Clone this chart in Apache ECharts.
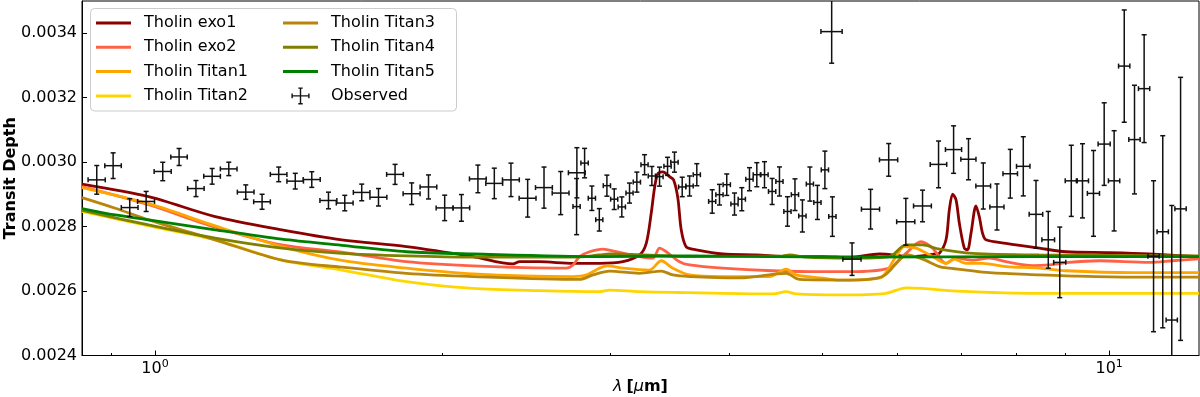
<!DOCTYPE html>
<html>
<head>
<meta charset="utf-8">
<script src="https://cdn.jsdelivr.net/npm/echarts@6/dist/echarts.min.js"></script>
<style>
  html, body { margin: 0; padding: 0; background: #fff; }
  #chart { width: 1200px; height: 397px; }
</style>
</head>
<body>
<div id="chart"></div>
<script>
// axis ticks
const xMajorTicks = [1, 10];
const xMinorTicks = [0.9, 2, 3, 4, 5, 6, 7, 8, 9];
const yTicks = [0.0024, 0.0026, 0.0028, 0.0030, 0.0032, 0.0034];

// observed spectrum (wavelength um, depth, errors)
const obsWave = [0.869, 0.904, 0.941, 0.979, 1.019, 1.060, 1.104, 1.148, 1.195, 1.245,
  1.295, 1.348, 1.403, 1.460, 1.520, 1.581, 1.647, 1.715, 1.785, 1.858,
  1.935, 2.012, 2.095, 2.180, 2.268, 2.361, 2.458, 2.557, 2.662, 2.768,
  2.766, 2.820, 2.870, 2.922, 2.976, 3.029, 3.085, 3.143, 3.199, 3.259,
  3.317, 3.379, 3.445, 3.503, 3.569, 3.633, 3.697, 3.837, 3.905, 3.974,
  4.049, 4.121, 4.198, 4.273, 4.353, 4.434, 4.513, 4.601, 4.685, 4.770,
  4.857, 4.946, 5.036, 5.128, 5.119, 5.377, 5.623, 5.874, 6.122, 6.374,
  6.625, 6.870, 7.121, 7.380, 7.628, 7.877, 8.128, 8.381, 8.633, 8.876,
  9.126, 9.376, 9.628, 9.880, 10.12, 10.37, 10.63, 10.88, 11.13, 11.38,
  11.63, 11.88];
const obsDepth = [0.002945, 0.002989, 0.002859, 0.002878, 0.002971, 0.003016, 0.002918, 0.002956, 0.002979, 0.002907,
  0.002877, 0.002962, 0.002941, 0.002946, 0.002881, 0.002873, 0.002906, 0.002891, 0.002962, 0.002902,
  0.002923, 0.002858, 0.002858, 0.002948, 0.002934, 0.002945, 0.002888, 0.002921, 0.002904, 0.002967,
  0.002862, 0.002997, 0.002888, 0.002821, 0.002927, 0.002885, 0.002861, 0.002904, 0.002938, 0.002992,
  0.002957, 0.002955, 0.002987, 0.003000, 0.002923, 0.002926, 0.002961, 0.002878, 0.002899, 0.002930,
  0.002870, 0.002885, 0.002947, 0.002961, 0.002961, 0.002909, 0.002940, 0.002847, 0.002899, 0.002833,
  0.002932, 0.002875, 0.002976, 0.002831, 0.003405, 0.002699, 0.002854, 0.003007, 0.002815, 0.002864,
  0.002993, 0.003039, 0.003009, 0.002926, 0.002861, 0.002964, 0.002987, 0.002838, 0.002759, 0.002689,
  0.002942, 0.002942, 0.002903, 0.003056, 0.002942, 0.003298, 0.003070, 0.003228, 0.002708, 0.002784,
  0.002510, 0.002855];
const obsDepthErr = [4.45e-5, 3.98e-5, 2.74e-5, 3.11e-5, 2.86e-5, 2.64e-5, 2.49e-5, 2.43e-5, 2.08e-5, 2.24e-5,
  2.33e-5, 2.27e-5, 2.43e-5, 2.43e-5, 2.58e-5, 2.40e-5, 2.58e-5, 2.71e-5, 3.11e-5, 3.36e-5,
  3.73e-5, 3.95e-5, 4.14e-5, 4.29e-5, 4.73e-5, 5.19e-5, 5.85e-5, 6.38e-5, 6.69e-5, 7.78e-5,
  8.71e-5, 4.57e-5, 3.79e-5, 3.48e-5, 3.27e-5, 3.20e-5, 3.11e-5, 3.11e-5, 3.11e-5, 3.11e-5,
  2.95e-5, 2.95e-5, 2.80e-5, 3.11e-5, 3.02e-5, 3.11e-5, 3.42e-5, 3.64e-5, 3.20e-5, 3.33e-5,
  3.42e-5, 3.58e-5, 3.58e-5, 3.73e-5, 4.04e-5, 4.04e-5, 4.51e-5, 4.57e-5, 4.91e-5, 4.98e-5,
  5.29e-5, 5.29e-5, 5.82e-5, 6.13e-5, 9.80e-5, 5.04e-5, 6.16e-5, 5.07e-5, 7.25e-5, 4.91e-5,
  7.25e-5, 7.37e-5, 6.38e-5, 7.15e-5, 7.15e-5, 7.56e-5, 9.18e-5, 1.051e-4, 8.80e-5, 1.095e-4,
  1.104e-4, 1.151e-4, 1.331e-4, 1.281e-4, 1.555e-4, 1.742e-4, 1.686e-4, 1.673e-4, 2.342e-4, 2.980e-4,
  3.555e-4, 4.081e-4];
const obsWaveErr = [0.018, 0.018, 0.019, 0.020, 0.021, 0.021, 0.022, 0.023, 0.024, 0.025,
  0.026, 0.027, 0.028, 0.030, 0.031, 0.032, 0.033, 0.035, 0.036, 0.038,
  0.039, 0.041, 0.042, 0.044, 0.046, 0.048, 0.050, 0.052, 0.054, 0.056,
  0.024, 0.025, 0.025, 0.025, 0.026, 0.026, 0.027, 0.027, 0.028, 0.028,
  0.029, 0.029, 0.030, 0.031, 0.031, 0.032, 0.032, 0.033, 0.034, 0.035,
  0.035, 0.036, 0.037, 0.037, 0.038, 0.039, 0.039, 0.040, 0.041, 0.042,
  0.042, 0.043, 0.044, 0.045, 0.131, 0.118, 0.123, 0.129, 0.134, 0.137,
  0.132, 0.134, 0.130, 0.131, 0.130, 0.138, 0.132, 0.137, 0.132, 0.130,
  0.133, 0.137, 0.141, 0.144, 0.138, 0.141, 0.145, 0.148, 0.151, 0.155,
  0.158, 0.162];

// model spectra
const exo1Wave = [0.8386, 0.9849, 1.1565, 1.3582, 1.5695, 1.8347, 2.1542, 2.3723, 2.4109, 2.5301,
  2.7416, 2.9240, 3.0929, 3.2198, 3.2724, 3.3121, 3.3384, 3.3651, 3.4059, 3.4614,
  3.4950, 3.5314, 3.5605, 3.6037, 3.6917, 3.9362, 4.2663, 4.6229, 5.0096, 5.3425,
  5.743, 6.2176, 6.5840, 6.6375, 6.7456, 6.7994, 6.8539, 6.9104, 6.9655, 7.0500,
  7.1041, 7.1644, 7.2513, 7.3093, 7.3675, 7.4282, 7.7954, 8.4474, 9.0103, 10.0,
  11.012, 12.42];
const exo1Depth = [0.002932, 0.002893, 0.002831, 0.002790, 0.002759, 0.002738, 0.002707, 0.002684, 0.002691, 0.002691,
  0.002686, 0.002686, 0.002691, 0.002712, 0.002748, 0.002842, 0.002920, 0.002964, 0.002970, 0.002955,
  0.002945, 0.002889, 0.002790, 0.002737, 0.002728, 0.002715, 0.002712, 0.002707, 0.002707, 0.002705,
  0.002715, 0.002707, 0.002715, 0.002717, 0.002759, 0.002852, 0.002901, 0.002883, 0.002811, 0.002733,
  0.002728, 0.002779, 0.002864, 0.002831, 0.002779, 0.002759, 0.002748, 0.002733, 0.002722, 0.002719,
  0.002715, 0.002707];

const exo2Wave = [0.8386, 0.9849, 1.1565, 1.3582, 1.5695, 1.8347, 2.1542, 2.6984, 2.7416, 2.7862,
  2.8544, 2.9474, 3.0440, 3.2198, 3.3248, 3.3789, 3.4339, 3.5459, 3.6325, 3.9362,
  4.4406, 5.0096, 5.3425, 5.8820, 6.1237, 6.3499, 6.5302, 6.7456, 6.9104, 7.1921,
  7.4875, 7.7954, 8.3120, 8.6538, 9.0103, 9.7604, 11.012, 11.649, 12.42];
const exo2Depth = [0.002924, 0.002868, 0.002798, 0.002743, 0.002721, 0.002691, 0.002678, 0.002671, 0.002681, 0.002707,
  0.002722, 0.002730, 0.002722, 0.002707, 0.002702, 0.002733, 0.002722, 0.002691, 0.002681, 0.002671,
  0.002663, 0.002660, 0.002660, 0.002671, 0.002717, 0.002753, 0.002733, 0.002686, 0.002702, 0.002696,
  0.002702, 0.002691, 0.002679, 0.002681, 0.002688, 0.002694, 0.002689, 0.002694, 0.002700];

const titan1Wave = [0.8386, 0.9849, 1.1565, 1.3582, 1.5695, 1.8347, 2.1542, 2.7416, 2.8317, 2.9240,
  2.9831, 3.0929, 3.2984, 3.3928, 3.4890, 3.6325, 3.9362, 4.4053, 4.5863, 4.6982,
  5.0096, 5.2154, 5.743, 5.9779, 6.0987, 6.2734, 6.5302, 6.7456, 6.8820, 7.0790,
  7.3675, 7.7954, 8.4474, 9.0103, 10.578, 12.42];
const titan1Depth = [0.002921, 0.002871, 0.002802, 0.002738, 0.002695, 0.002671, 0.002653, 0.002645, 0.002650, 0.002671,
  0.002678, 0.002671, 0.002665, 0.002694, 0.002671, 0.002650, 0.002645, 0.002645, 0.002668, 0.002650,
  0.002640, 0.002634, 0.002640, 0.002707, 0.002738, 0.002733, 0.002707, 0.002686, 0.002699, 0.002686,
  0.002686, 0.002676, 0.002671, 0.002663, 0.002657, 0.002657];

const titan2Wave = [0.8386, 0.9849, 1.1565, 1.3582, 1.5695, 1.8347, 2.1542, 2.5301, 2.9240, 2.9953,
  3.2198, 3.6325, 4.4406, 4.5863, 4.6982, 5.2154, 5.8352, 6.1237, 6.3744, 6.9104,
  8.4474, 12.42];
const titan2Depth = [0.002847, 0.002802, 0.002759, 0.002696, 0.002665, 0.002629, 0.002608, 0.002601, 0.002598, 0.002603,
  0.002598, 0.002595, 0.002591, 0.002598, 0.002591, 0.002588, 0.002593, 0.002610, 0.002608, 0.002600,
  0.002593, 0.002593];

const titan3Wave = [0.8386, 0.9088, 0.9849, 1.1565, 1.3582, 1.5695, 1.8347, 2.1542, 2.7862, 2.8772,
  2.9953, 3.2198, 3.3928, 3.4890, 3.6325, 4.0979, 4.5863, 4.7358, 5.3425, 5.7875,
  6.0503, 6.1475, 6.3744, 6.6375, 6.7994, 7.0790, 7.4875, 8.4474, 9.0103, 10.578,
  12.42];
const titan3Depth = [0.002890, 0.002857, 0.002821, 0.002759, 0.002696, 0.002674, 0.002655, 0.002645, 0.002636, 0.002650,
  0.002662, 0.002655, 0.002662, 0.002650, 0.002645, 0.002641, 0.002655, 0.002636, 0.002634, 0.002645,
  0.002702, 0.002712, 0.002699, 0.002676, 0.002671, 0.002665, 0.002657, 0.002650, 0.002647, 0.002643,
  0.002643];

const titan4Wave = [0.8386, 0.9849, 1.1565, 1.3582, 1.5695, 1.8347, 2.1542, 2.7416, 2.9240, 2.9953,
  3.6325, 4.5489, 4.6229, 4.8129, 5.3425, 5.8820, 6.1237, 6.3744, 6.6375, 7.1921,
  8.4474, 12.42];
const titan4Depth = [0.002850, 0.002805, 0.002764, 0.002733, 0.002717, 0.002709, 0.002705, 0.002705, 0.002712, 0.002715,
  0.002707, 0.002709, 0.002712, 0.002705, 0.002702, 0.002707, 0.002743, 0.002743, 0.002730, 0.002717,
  0.002712, 0.002709];

const titan5Wave = [0.8386, 0.9088, 0.9849, 1.1565, 1.3582, 1.5695, 1.8347, 2.1542, 2.9240, 3.6325,
  5.3425, 8.4474, 12.42];
const titan5Depth = [0.002856, 0.002836, 0.002821, 0.002790, 0.002761, 0.002742, 0.002722, 0.002715, 0.002707, 0.002709,
  0.002705, 0.002707, 0.002707];

const models = [
  { name: 'Tholin exo1', color: '#8b0000', wave: exo1Wave, depth: exo1Depth },
  { name: 'Tholin exo2', color: '#ff6347', wave: exo2Wave, depth: exo2Depth },
  { name: 'Tholin Titan1', color: '#ffa500', wave: titan1Wave, depth: titan1Depth },
  { name: 'Tholin Titan2', color: '#ffd700', wave: titan2Wave, depth: titan2Depth },
  { name: 'Tholin Titan3', color: '#b8860b', wave: titan3Wave, depth: titan3Depth },
  { name: 'Tholin Titan4', color: '#808000', wave: titan4Wave, depth: titan4Depth },
  { name: 'Tholin Titan5', color: '#008000', wave: titan5Wave, depth: titan5Depth },
];

const FONT = 'DejaVu Sans';
const ERR_COLOR = '#111111';
// legend glyphs, drawn in a 35x17 box
const LINE_ICON = 'path://M0,0 M35,17 M0,7.0 L35,7.0 L35,10.0 L0,10.0 Z';
const ERR_ICON = 'path://M0,0 M35,17 M9,7.8 L26,7.8 L26,9.2 L9,9.2 Z M16.8,0 L18.2,0 L18.2,17 L16.8,17 Z '
  + 'M8.4,6.2 L9.8,6.2 L9.8,10.8 L8.4,10.8 Z M25.2,6.2 L26.6,6.2 L26.6,10.8 L25.2,10.8 Z '
  + 'M15.3,0 L19.7,0 L19.7,1.4 L15.3,1.4 Z M15.3,15.6 L19.7,15.6 L19.7,17 L15.3,17 Z';

const chart = echarts.init(document.getElementById('chart'), null, { renderer: 'canvas' });

const lineSeries = models.map((m) => ({
  name: m.name,
  type: 'line',
  data: m.wave.map((w, i) => [w, m.depth[i]]),
  symbol: 'none',
  showSymbol: false,
  smooth: 0.3,
  lineStyle: { color: m.color, width: 2.8 },
  itemStyle: { color: m.color },
  silent: true,
  z: 2,
}));

function renderErrorBar(params, api) {
  const x = api.value(0);
  const y = api.value(1);
  const xe = api.value(2);
  const ye = api.value(3);
  const c = api.coord([x, y]);
  const left = api.coord([x - xe, y])[0];
  const right = api.coord([x + xe, y])[0];
  const top = api.coord([x, y + ye])[1];
  const bottom = api.coord([x, y - ye])[1];
  const cs = params.coordSys;
  const yMinPx = cs.y;
  const yMaxPx = cs.y + cs.height;
  const cap = 2.5;
  const style = { stroke: ERR_COLOR, lineWidth: 1.5 };
  const children = [
    { type: 'line', shape: { x1: left, y1: c[1], x2: right, y2: c[1] }, style },
    { type: 'line', shape: { x1: c[0], y1: Math.max(top, yMinPx), x2: c[0], y2: Math.min(bottom, yMaxPx) }, style },
    { type: 'line', shape: { x1: left, y1: c[1] - cap, x2: left, y2: c[1] + cap }, style },
    { type: 'line', shape: { x1: right, y1: c[1] - cap, x2: right, y2: c[1] + cap }, style },
  ];
  if (top >= yMinPx) {
    children.push({ type: 'line', shape: { x1: c[0] - cap, y1: top, x2: c[0] + cap, y2: top }, style });
  }
  if (bottom <= yMaxPx) {
    children.push({ type: 'line', shape: { x1: c[0] - cap, y1: bottom, x2: c[0] + cap, y2: bottom }, style });
  }
  return { type: 'group', children };
}

const legendBase = {
  orient: 'vertical',
  top: 14.5,
  padding: 0,
  itemWidth: 35,
  itemHeight: 17,
  itemGap: 7.3,
  selectedMode: false,
  textStyle: { fontFamily: FONT, fontSize: 16, color: '#000', padding: [0, 0, 0, 8] },
};

const lineLegendItem = (name) => ({ name, icon: LINE_ICON });

chart.setOption({
  animation: false,
  backgroundColor: '#fff',
  textStyle: { fontFamily: FONT },
  grid: {
    left: 82, right: 1, top: 1, bottom: 41.5,
    outerBoundsMode: 'none',
    containLabel: false,
    show: true, borderColor: '#000', borderWidth: 1, backgroundColor: 'transparent',
  },
  legend: [
    Object.assign({}, legendBase, {
      left: 96,
      data: ['Tholin exo1', 'Tholin exo2', 'Tholin Titan1', 'Tholin Titan2'].map(lineLegendItem),
    }),
    Object.assign({}, legendBase, {
      left: 283,
      data: ['Tholin Titan3', 'Tholin Titan4', 'Tholin Titan5'].map(lineLegendItem)
        .concat([{ name: 'Observed', icon: ERR_ICON }]),
    }),
  ],
  graphic: [{
    type: 'rect',
    z: 3,
    shape: { x: 90.5, y: 8.5, width: 366, height: 102.5, r: 4 },
    style: { fill: 'rgba(255,255,255,0.8)', stroke: '#cccccc', lineWidth: 1 },
  }],
  xAxis: [
    {
      type: 'log',
      logBase: 10,
      min: 0.8386,
      max: 12.42,
      position: 'bottom',
      axisLine: { show: true, lineStyle: { color: '#000', width: 1 } },
      axisTick: { show: true, inside: true, length: 5, customValues: xMajorTicks, lineStyle: { color: '#000', width: 1 } },
      axisLabel: {
        customValues: xMajorTicks,
        margin: 3,
        color: '#000',
        formatter: (v) => `{b|10}{s|${Math.round(Math.log10(v))}}`,
        rich: {
          b: { fontFamily: FONT, fontSize: 16, color: '#000', lineHeight: 20 },
          s: { fontFamily: FONT, fontSize: 11, color: '#000', lineHeight: 10, verticalAlign: 'top' },
        },
      },
      splitLine: { show: false },
      minorTick: { show: false },
      name: '{i|λ} {b|[}{i|μ}{b|m]}',
      nameLocation: 'middle',
      nameGap: 23,
      nameMoveOverlap: false,
      nameTextStyle: {
        rich: {
          i: { fontFamily: FONT, fontSize: 16, fontStyle: 'italic', color: '#000' },
          b: { fontFamily: FONT, fontSize: 16, fontWeight: 'bold', color: '#000' },
        },
      },
    },
    {
      type: 'log',
      logBase: 10,
      min: 0.8386,
      max: 12.42,
      position: 'bottom',
      axisLine: { show: false },
      axisTick: { show: true, inside: true, length: 2.5, customValues: xMinorTicks, lineStyle: { color: '#000', width: 1 } },
      axisLabel: { show: false },
      splitLine: { show: false },
    },
  ],
  yAxis: {
    type: 'value',
    min: 0.0024,
    max: 0.0035,
    interval: 0.0002,
    axisLine: { show: true, lineStyle: { color: '#000', width: 1 } },
    axisTick: { show: true, inside: true, length: 5, customValues: yTicks, lineStyle: { color: '#000', width: 1 } },
    axisLabel: {
      customValues: yTicks,
      margin: 5,
      color: '#000',
      fontFamily: FONT,
      fontSize: 16,
      formatter: (v) => v.toFixed(4),
    },
    splitLine: { show: false },
    name: 'Transit Depth',
    nameLocation: 'middle',
    nameGap: 63,
    nameMoveOverlap: false,
    nameTextStyle: { fontFamily: FONT, fontSize: 16, fontWeight: 'bold', color: '#000' },
  },
  series: lineSeries.concat([{
    name: 'Observed',
    type: 'custom',
    xAxisIndex: 0,
    yAxisIndex: 0,
    data: obsWave.map((w, i) => [w, obsDepth[i], obsWaveErr[i], obsDepthErr[i]]),
    encode: { x: 0, y: 1 },
    itemStyle: { color: ERR_COLOR },
    renderItem: renderErrorBar,
    silent: true,
    z: 3,
  }]),
});
</script>
</body>
</html>
